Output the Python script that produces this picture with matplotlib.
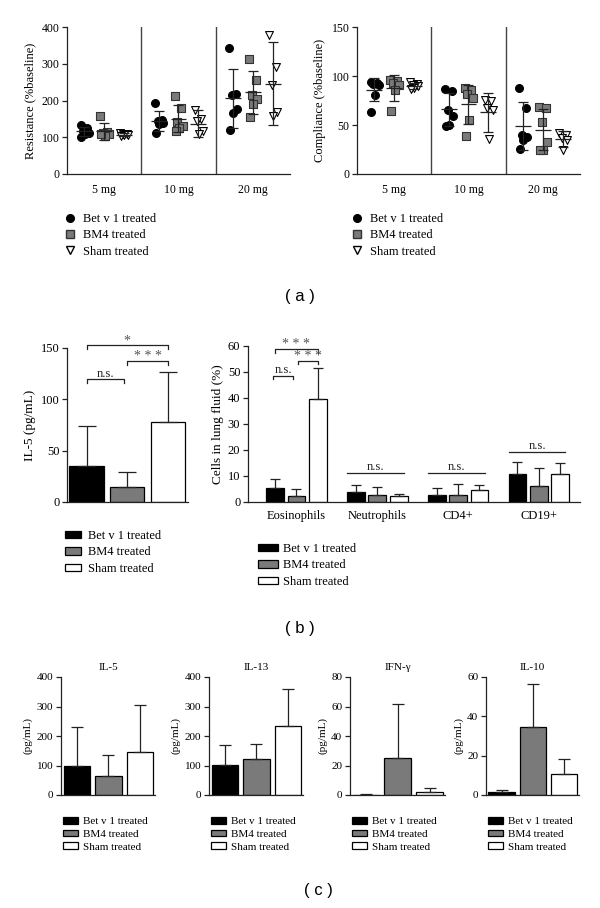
import numpy as np
import matplotlib
matplotlib.use("Agg")
import matplotlib.pyplot as plt
from matplotlib.lines import Line2D

plt.rcParams['font.family'] = ['Liberation Serif', 'DejaVu Serif']
plt.rcParams['axes.linewidth'] = 0.9
plt.rcParams['xtick.major.width'] = 0.9
plt.rcParams['ytick.major.width'] = 0.9

W, H = 600, 908

groups = ['Bet v 1 treated', 'BM4 treated', 'Sham treated']
doses = ['5 mg', '10 mg', '20 mg']

# (a) airway resistance, %baseline: one list per dose
res_bet = [[134, 124, 118, 112, 108, 102], [192, 147, 144, 138, 135, 111], [342, 218, 214, 176, 165, 120]]
res_bm4 = [[159, 115, 112, 108, 104, 110], [212, 179, 142, 130, 126, 118], [313, 257, 215, 203, 191, 155]]
res_sham = [[112, 110, 108, 106, 105, 103], [175, 149, 145, 118, 108], [378, 292, 242, 170, 157]]
res_mean = [[116, 116, 107], [145, 151, 137], [206, 222, 245]]
res_sd = [[12, 23, 4], [27, 37, 37], [80, 58, 113]]

# (a) compliance, %baseline
com_bet = [[94, 93, 92, 91, 81, 63], [87, 85, 65, 59, 50, 49], [88, 67, 40, 38, 35, 26]]
com_bm4 = [[96, 95, 93, 91, 86, 64], [88, 86, 82, 78, 55, 39], [68, 67, 53, 33, 24, 25]]
com_sham = [[94, 92, 91, 90, 88, 87], [76, 74, 67, 65, 36], [42, 40, 37, 35, 25]]
com_mean = [[86, 88, 90], [66, 71, 63], [49, 45, 36]]
com_sd = [[12, 13, 3], [17, 20, 20], [24, 21, 8]]

# (b) IL-5 in lung fluid
il5_mean = [35.5, 14.5, 77.5]
il5_sd = [39, 14.3, 49.5]

# (b) cells in lung fluid (%)
cell_types = ['Eosinophils', 'Neutrophils', 'CD4+', 'CD19+']
cell_bet = [5.4, 3.7, 2.8, 10.9]
cell_bet_sd = [3.6, 2.7, 2.6, 4.3]
cell_bm4 = [2.2, 2.7, 2.6, 6.0]
cell_bm4_sd = [2.9, 2.9, 4.2, 6.9]
cell_sham = [39.5, 2.2, 4.6, 10.9]
cell_sham_sd = [11.9, 1.0, 1.8, 4.1]

# (c) cytokines (pg/mL)
cyto_names = ['IL-5', 'IL-13', 'IFN-γ', 'IL-10']
cyto_mean = [[99, 64, 145], [103, 121, 233], [0.3, 24.8, 2.0], [1.7, 34.4, 10.8]]
cyto_sd = [[131, 73, 159], [65, 52, 125], [0.2, 37.2, 2.8], [0.7, 21.8, 7.5]]
cyto_ymax = [400, 400, 80, 60]
cyto_step = [100, 100, 20, 20]

bar_colors = ['black', '#7a7a7a', 'white']
DARK = '#222222'


def box(l, t, r, b):
    return [l / W, 1 - b / H, (r - l) / W, (b - t) / H]


def clean(ax):
    ax.spines['top'].set_visible(False)
    ax.spines['right'].set_visible(False)
    for s in ('left', 'bottom'):
        ax.spines[s].set_color(DARK)
    ax.tick_params(axis='y', length=3.5, color=DARK, pad=2)


fig = plt.figure(figsize=(W / 100, H / 100), dpi=100)

# ---------- (a) scatter panels ----------
sub_pos = [0.7, 1.5, 2.3]
jit = [-0.17, 0.13, -0.05, 0.2, 0.02, -0.13]
mstyle = [dict(marker='o', color='black', edgecolor='black'),
          dict(marker='s', color='#7a7a7a', edgecolor='#333333'),
          dict(marker='v', color='white', edgecolor='black')]


def scatter_panel(rect, series, means, sds, ylim, step, ylabel, leg_x):
    ax = fig.add_axes(box(*rect))
    clean(ax)
    for i in range(3):
        for j, ser in enumerate(series):
            vals = ser[i]
            xs = [3 * i + sub_pos[j] + jit[k] * 0.9 for k in range(len(vals))]
            ax.scatter(xs, vals, s=32, linewidths=0.8, zorder=3, **mstyle[j])
            xc = 3 * i + sub_pos[j]
            ax.errorbar(xc, means[i][j], yerr=sds[i][j], fmt='none', ecolor=DARK,
                        elinewidth=0.9, capsize=3.5, capthick=0.9, zorder=4)
            ax.hlines(means[i][j], xc - 0.32, xc + 0.32, color=DARK, lw=0.9, zorder=4)
    for xv in (3, 6):
        ax.axvline(xv, color='#444444', lw=1.0)
    ax.set_xlim(0, 9)
    ax.set_ylim(0, ylim)
    ax.set_yticks(np.arange(0, ylim + 1, step))
    ax.set_xticks([1.5, 4.5, 7.5])
    ax.set_xticklabels(doses)
    ax.tick_params(axis='x', length=0, pad=7)
    ax.tick_params(labelsize=8.5)
    ax.set_ylabel(ylabel, fontsize=9, labelpad=4)
    handles = [Line2D([], [], linestyle='none', markersize=5.5, marker=m['marker'],
                      markerfacecolor=m['color'], markeredgecolor=m['edgecolor'])
               for m in mstyle]
    ax.legend(handles, groups, loc='upper left', bbox_to_anchor=(leg_x / W, 1 - 213 / H),
              bbox_transform=fig.transFigure, frameon=False, fontsize=9,
              borderaxespad=0, borderpad=0, handlelength=1.0, handletextpad=0.5,
              labelspacing=0.35)
    return ax


scatter_panel((67, 27, 290, 174), [res_bet, res_bm4, res_sham], res_mean, res_sd,
              400, 100, 'Resistance (%baseline)', 64)
scatter_panel((357, 27, 580, 174), [com_bet, com_bm4, com_sham], com_mean, com_sd,
              150, 50, 'Compliance (%baseline)', 351)


def bracket(ax, x0, x1, y, drop, text, ty, fs=9, color=DARK):
    ax.plot([x0, x0, x1, x1], [y - drop, y, y, y - drop], color=DARK, lw=0.9, clip_on=False)
    ax.text((x0 + x1) / 2, ty, text, ha='center', va='center', fontsize=fs, color=color)


def bar_legend(ax, x, y, fs, hl, pad, ls):
    ax.legend(loc='upper left', bbox_to_anchor=(x / W, 1 - y / H), bbox_transform=fig.transFigure,
              frameon=False, fontsize=fs, borderaxespad=0, borderpad=0, handlelength=hl,
              handleheight=0.55, handletextpad=pad, labelspacing=ls)


STAR = '#555555'

# ---------- (b) IL-5 ----------
ax = fig.add_axes(box(67, 348, 188, 502))
clean(ax)
xb = np.arange(3)
for j in range(3):
    ax.bar(xb[j], il5_mean[j], width=0.84, color=bar_colors[j], edgecolor='black', lw=0.9,
           yerr=[[0], [il5_sd[j]]], capsize=6.5, error_kw=dict(elinewidth=0.9, capthick=0.9, ecolor=DARK),
           label=groups[j])
ax.set_xlim(-0.48, 2.49)
ax.set_ylim(0, 150)
ax.set_yticks([0, 50, 100, 150])
ax.set_xticks([])
ax.tick_params(labelsize=9)
ax.set_ylabel('IL-5 (pg/mL)', fontsize=9.5, labelpad=3)
bracket(ax, 0, 2, 152.5, 3.5, '*', 157, fs=10, color=STAR)
bracket(ax, 1, 2, 137, 3.5, '* * *', 141.5, fs=10, color=STAR)
bracket(ax, 0, 0.93, 119.5, 3.5, 'n.s.', 125)
bar_legend(ax, 65, 530, 9, 1.25, 0.6, 0.35)

# ---------- (b) cells ----------
ax = fig.add_axes(box(248, 346, 580, 502))
clean(ax)
xc = np.arange(len(cell_types))
off = 0.265
wd = 0.22
for j, (m, s) in enumerate([(cell_bet, cell_bet_sd), (cell_bm4, cell_bm4_sd), (cell_sham, cell_sham_sd)]):
    ax.bar(xc + (j - 1) * off, m, width=wd, color=bar_colors[j], edgecolor='black', lw=0.9,
           yerr=[np.zeros(len(s)), s], capsize=3.5, error_kw=dict(elinewidth=0.9, capthick=0.9, ecolor=DARK),
           label=groups[j])
ax.set_xlim(-0.6, 3.51)
ax.set_ylim(0, 60)
ax.set_yticks(np.arange(0, 61, 10))
ax.set_xticks(xc)
ax.set_xticklabels(cell_types)
ax.tick_params(axis='x', length=0, pad=6)
ax.tick_params(labelsize=9)
ax.set_ylabel('Cells in lung fluid (%)', fontsize=9.5, labelpad=3)
bracket(ax, -off, off, 58.7, 1.2, '* * *', 60.6, fs=10, color=STAR)
bracket(ax, 0.02, off, 54.4, 1.2, '* * *', 56.0, fs=10, color=STAR)
bracket(ax, -off - 0.02, -0.04, 48.5, 1.2, 'n.s.', 50.6)
for k, y in zip([1, 2, 3], [11, 11, 19.3]):
    ax.plot([k - 0.37, k + 0.33], [y, y], color=DARK, lw=0.9)
    ax.text(k - 0.02, y + 2.3, 'n.s.', ha='center', va='center', fontsize=9, color=DARK)
bar_legend(ax, 258, 543, 9, 1.6, 0.4, 0.35)

# ---------- (c) cytokines ----------
c_rects = [(61, 677, 155, 795), (209, 677, 303, 795), (350, 677, 445, 795), (486, 677, 579, 795)]
for i, rect in enumerate(c_rects):
    ax = fig.add_axes(box(*rect))
    clean(ax)
    for j in range(3):
        ax.bar(j, cyto_mean[i][j], width=0.84, color=bar_colors[j], edgecolor='black', lw=0.9,
               yerr=[[0], [cyto_sd[i][j]]], capsize=4.5,
               error_kw=dict(elinewidth=0.9, capthick=0.9, ecolor=DARK), label=groups[j])
    ax.set_xlim(-0.5, 2.48)
    ax.set_ylim(0, cyto_ymax[i])
    ax.set_yticks(np.arange(0, cyto_ymax[i] + 1, cyto_step[i]))
    ax.set_xticks([])
    ax.tick_params(labelsize=8)
    ax.set_ylabel('(pg/mL)', fontsize=8, labelpad=3)
    ax.set_title(cyto_names[i], fontsize=8, pad=5)
    bar_legend(ax, rect[0] + 2, 817, 8, 1.35, 0.45, 0.3)

# panel letters
for txt, x, y in [('( a )', 300, 296), ('( b )', 300, 628), ('( c )', 318, 890)]:
    fig.text(x / W, 1 - y / H, txt, ha='center', va='center', fontsize=12,
             family=['Liberation Sans', 'DejaVu Sans'])

fig.savefig('out.png', dpi=100)
